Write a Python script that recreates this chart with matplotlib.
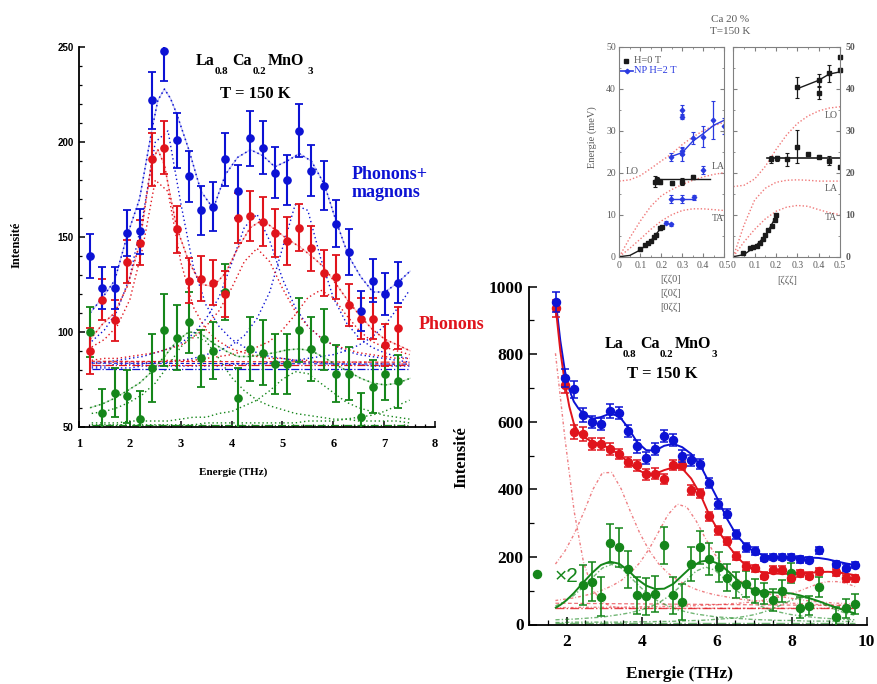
import matplotlib
matplotlib.use('Agg')
import matplotlib.pyplot as plt
from matplotlib.ticker import MultipleLocator

plt.rcParams['font.family'] = ['Liberation Serif', 'DejaVu Sans']
plt.rcParams['font.weight'] = 'bold'

BLUE = '#0c12d4'
RED = '#e0141c'
GREEN = '#15861a'
GREY = '#5a5a5a'

# ---------------- panneau 1 : 1 -> 8 THz ----------------
e1 = [1.22, 1.46, 1.70, 1.95, 2.19, 2.43, 2.68, 2.92, 3.16, 3.40, 3.64, 3.88, 4.12,
      4.37, 4.61, 4.85, 5.09, 5.33, 5.57, 5.82, 6.06, 6.30, 6.54, 6.78, 7.02, 7.27]
pm1 = [140, 123, 123, 152, 153, 222, 248, 201, 182, 164, 166, 191, 174,
       202, 197, 184, 180, 206, 185, 177, 157, 142, 111, 127, 120, 126]
pm1_err = [11.5, 11, 11, 12, 12, 15, 16, 14.5, 13.5, 13, 13, 14, 14,
           14.5, 14, 13.5, 13, 14, 13.5, 13, 12.5, 12, 10.5, 11.5, 11, 11]
ph1 = [90, 117, 106, 137, 147, 191, 197, 154, 127, 128, 126, 120, 160,
       161, 158, 152, 148, 155, 144, 131, 129, 114, 107, 107, 93, 102]
ph1_err = [12, 11, 11, 11.5, 12, 14, 14, 12.5, 12, 12, 12, 12, 13,
           13, 13, 12.5, 12.5, 12.5, 12, 12, 11.5, 11, 11, 11, 11, 11]
mg1 = [100, 57, 68, 66, 54, 81, 101, 97, 105, 86, 90, 121, 65,
       91, 89, 83, 83, 101, 91, 96, 78, 78, 55, 71, 78, 74]
mg1_err = [13, 13, 13, 14, 15, 18, 19, 17, 16, 15, 15, 15, 16,
           17, 17, 16, 16, 17, 17, 16, 15, 14, 13, 14, 14, 14]

# ajustements totaux
fit1_x = [1.22, 1.46, 1.70, 1.95, 2.19, 2.43, 2.55, 2.68, 2.80, 2.92, 3.16, 3.40, 3.64, 3.88, 4.12,
          4.37, 4.61, 4.85, 5.09, 5.33, 5.57, 5.82, 6.06, 6.30, 6.54, 6.78, 7.02, 7.27, 7.51]
pm1_fit = [110, 118, 127, 151, 170, 206, 222, 228, 223, 215, 196, 174, 165, 183, 192,
           196, 193, 187, 190, 194, 190, 178, 158, 140, 129, 121, 121, 126, 132]
ph1_fit = [96, 104, 110, 124, 146, 190, 196, 188, 171, 155, 137, 125, 124, 131, 144,
           155, 159, 154, 149, 145, 140, 134, 125, 116, 108, 101, 96, 93, 90]
mg1_fit = [60, 62, 65, 69, 73, 79, 83, 87, 91, 95, 100, 99, 94, 90, 87,
           87, 88, 89, 90.5, 91, 90, 86.5, 82.5, 79, 75.5, 73, 72, 73, 75.5]

# composantes
c1_x = [1.25, 1.5, 1.75, 2, 2.25, 2.5, 2.75, 3, 3.25, 3.5, 3.75, 4, 4.25, 4.5, 4.75,
        5, 5.25, 5.5, 5.75, 6, 6.25, 6.5, 6.75, 7, 7.25, 7.5]
b1 = [95, 101, 111, 129, 160, 200, 206, 168, 134, 114, 103, 96, 92, 89, 87, 86, 85, 84, 84, 83, 83, 83, 82, 82, 82, 82]
b2 = [84, 84, 85, 86, 87, 89, 91, 94, 99, 107, 118, 136, 155, 162, 148, 128, 113, 103, 97, 93, 90, 88, 87, 86, 85, 84]
b3 = [82, 82, 83, 83, 83, 84, 84, 85, 86, 88, 90, 93, 98, 107, 121, 144, 167, 164, 139, 118, 105, 97, 92, 89, 87, 86]
b4 = [81, 81, 81, 81, 82, 82, 82, 82, 82, 82, 82, 83, 83, 83, 84, 84, 85, 86, 87, 88, 90, 93, 97, 103, 112, 122]
r1 = [92, 96, 103, 117, 144, 180, 174, 137, 113, 101, 95, 91, 89, 87, 86, 86, 85, 85, 84, 84, 84, 84, 84, 83, 83, 83]
r2 = [85, 86, 86, 87, 88, 89, 91, 93, 97, 103, 111, 123, 137, 144, 137, 123, 111, 103, 97, 93, 91, 89, 88, 87, 86, 86]
r3 = [83, 84, 84, 84, 84, 84, 85, 85, 85, 86, 87, 88, 90, 92, 95, 101, 109, 118, 122, 118, 109, 101, 95, 92, 90, 88]
m1 = [57, 58, 60, 63, 67, 73, 82, 92, 98, 95, 86, 76, 69, 64, 61, 59, 57, 56, 55, 54, 54, 53, 53, 53, 53, 52]
m2 = [52, 52, 52, 53, 53, 53, 53, 54, 55, 55, 57, 58, 61, 64, 69, 75, 79, 78, 73, 68, 63, 60, 58, 56, 55, 54]
m3 = [51, 51, 51, 51, 51, 51, 51, 51, 51, 52, 52, 52, 52, 52, 52, 52, 52, 53, 53, 53, 54, 55, 56, 58, 61, 64]
bg1_x = [1.25, 7.5]
bg1_b = [80.5, 80.5]
bg1_b2 = [83.5, 83]
bg1_r = [82.5, 82.5]
bg1_r2 = [84.5, 84]
bg1_g = [51, 51]

# ---------------- panneau 3 : 1 -> 10 THz ----------------
e3 = [1.71, 1.95, 2.19, 2.43, 2.68, 2.91, 3.15, 3.40, 3.64, 3.87, 4.12, 4.36, 4.60, 4.84, 5.08, 5.32, 5.56,
      5.80, 6.04, 6.28, 6.52, 6.77, 7.01, 7.25, 7.50, 7.74, 7.98, 8.23, 8.47, 8.72, 9.19, 9.44, 9.68]
pm3 = [954, 730, 696, 620, 600, 594, 632, 626, 572, 527, 494, 520, 558, 547, 500, 486, 474,
       419, 358, 328, 267, 228, 218, 198, 200, 200, 200, 193, 191, 220, 179, 168, 176]
pm3_err = [30, 26, 25, 20, 18, 18, 20, 18, 18, 18, 18, 18, 18, 18, 18, 16, 15,
           15, 15, 14, 13, 12, 12, 11, 10, 10, 10, 10, 10, 10, 10, 10, 10]
ph3 = [936, 710, 570, 564, 535, 535, 519, 505, 481, 471, 445, 447, 432, 473, 471, 397, 388,
       320, 279, 248, 203, 173, 166, 145, 162, 162, 139, 151, 145, 158, 154, 137, 137]
ph3_err = [26, 25, 22, 20, 17, 17, 17, 16, 16, 16, 16, 16, 15, 15, 15, 15, 14,
           13, 13, 12, 12, 11, 11, 10, 10, 10, 10, 10, 10, 10, 10, 10, 10]
e3g = [2.43, 2.68, 2.91, 3.15, 3.40, 3.64, 3.87, 4.12, 4.36, 4.60, 4.84, 5.08, 5.32, 5.56, 5.80,
       6.05, 6.28, 6.52, 6.77, 7.01, 7.25, 7.50, 7.74, 7.98, 8.23, 8.47, 8.72, 9.19, 9.44, 9.68]
mg3 = [117, 127, 82, 240, 228, 164, 87, 84, 90, 234, 87, 67, 179, 228, 194,
       171, 139, 117, 120, 99, 92, 72, 99, 153, 50, 56, 110, 23, 48, 61]
mg3_err = [58, 58, 58, 58, 58, 55, 55, 55, 53, 55, 55, 53, 50, 50, 48,
           45, 40, 38, 38, 35, 32, 32, 32, 30, 30, 28, 30, 30, 28, 30]
seul_x = [1.22]
seul_y = [150]

fit3_x = [1.71, 1.83, 1.95, 2.07, 2.19, 2.31, 2.43, 2.68, 2.91, 3.15, 3.40, 3.64, 3.87, 4.12, 4.36, 4.60,
          4.84, 5.08, 5.32, 5.56, 5.80, 6.04, 6.28, 6.52, 6.77, 7.01, 7.25, 7.50, 7.74, 7.98, 8.23, 8.47,
          8.72, 8.96, 9.19, 9.44, 9.68]
pm3_fit = [955, 840, 752, 695, 660, 640, 626, 609, 614, 624, 617, 582, 541, 516, 515, 529,
           535, 525, 505, 472, 420, 368, 312, 266, 234, 214, 205, 201, 200, 199, 199, 198,
           197, 193, 187, 181, 176]
ph3_fit = [935, 810, 715, 645, 595, 570, 556, 541, 533, 521, 503, 481, 459, 446, 446, 457,
           465, 462, 432, 386, 325, 278, 238, 203, 175, 161, 154, 151, 150, 150, 151, 153,
           155, 156, 155, 151, 146]
mg3_fit = [50, 58, 68, 80, 93, 108, 123, 153, 176, 186, 180, 160, 135, 115, 105, 106,
           120, 145, 170, 186, 190, 180, 160, 135, 113, 102, 97, 95, 94, 92, 86, 78,
           69, 59, 50, 41, 33]

c3_x = [1.7, 1.95, 2.2, 2.45, 2.7, 2.95, 3.2, 3.45, 3.7, 3.95, 4.2, 4.45, 4.7, 4.95, 5.2, 5.45, 5.7,
        5.95, 6.2, 6.45, 6.7, 6.95, 7.2, 7.45, 7.7, 7.95, 8.2, 8.45, 8.7, 8.95, 9.2, 9.45, 9.7]
qe = [803, 554, 334, 183, 102, 66, 53, 49, 48, 48, 48, 48, 48, 48, 48, 48, 48,
      48, 48, 48, 48, 48, 48, 48, 48, 48, 48, 48, 48, 48, 48, 48, 48]
p1 = [179, 217, 268, 331, 400, 449, 450, 402, 334, 270, 219, 180, 152, 132, 116, 104, 95,
      88, 83, 78, 74, 71, 69, 66, 65, 63, 62, 60, 59, 58, 58, 57, 56]
p2 = [71, 75, 79, 85, 92, 102, 114, 130, 153, 183, 224, 274, 325, 356, 348, 307, 255,
      208, 171, 144, 124, 109, 98, 89, 83, 78, 74, 70, 67, 65, 63, 62, 60]
p3 = [50, 50, 50, 51, 51, 51, 51, 51, 52, 52, 53, 53, 54, 54, 55, 56, 57,
      58, 60, 62, 64, 67, 71, 76, 82, 90, 99, 110, 120, 127, 127, 122, 112]
n1 = [55, 68, 87, 112, 140, 167, 178, 167, 140, 112, 87, 68, 55, 44, 37, 31, 27,
      23, 21, 19, 17, 15, 14, 13, 12, 12, 11, 10, 10, 10, 9, 9, 9]
n2 = [14, 15, 16, 18, 20, 22, 26, 30, 35, 42, 51, 64, 82, 105, 132, 158, 170,
      161, 136, 109, 85, 67, 53, 43, 36, 30, 26, 23, 20, 18, 16, 15, 14]
n3 = [6, 6, 7, 7, 7, 7, 7, 7, 8, 8, 8, 9, 9, 10, 11, 12, 13,
      15, 17, 19, 23, 28, 35, 45, 57, 70, 79, 78, 68, 54, 43, 33, 27]
bg3_x = [1.7, 9.7]
bg3_r = [48, 48]
bg3_r2 = [63, 56]
bg3_g = [5, 5]

# ---------------- encart : dispersion ----------------
q = [0, 0.05, 0.1, 0.15, 0.2, 0.25, 0.3, 0.35, 0.4, 0.45, 0.5]
lo_a = [18, 18.3, 19.3, 21, 22.8, 24.5, 26.7, 28.5, 30, 31.2, 32]
la_a = [0, 4.5, 8.5, 12, 14.5, 16, 17.2, 18.2, 19, 19.6, 20]
ta_a = [0, 2, 4.2, 6.5, 8.5, 10, 11, 11.4, 11.4, 11.2, 11]
lo_b = [16.7, 17, 18.5, 21.5, 25.5, 29, 31.7, 33.5, 34.7, 35.4, 35.7]
la_b = [0, 7.5, 13.5, 16.3, 17.7, 18.2, 18.3, 18.2, 18, 18, 18]
ta_b = [0, 3.5, 6.5, 9, 10.8, 11.8, 12.2, 12, 11.2, 10.5, 10]

ac_a_x = [0.098, 0.122, 0.138, 0.151, 0.165, 0.175, 0.194, 0.203]
ac_a_y = [1.8, 2.8, 3.3, 3.8, 4.6, 5.1, 6.8, 7.0]
acl_a_x = [0, 0.05, 0.1, 0.15, 0.2]
acl_a_y = [0, 0.3, 1.6, 3.8, 6.9]
h0_a_x = [0.171, 0.181, 0.195, 0.25, 0.30, 0.352]
h0_a_y = [17.9, 18.3, 17.9, 17.6, 17.9, 19.0]
h0_a_err = [1.2, 0.6, 0.5, 0.5, 0.8, 0.4]
h0l_a_x = [0.17, 0.43]
h0l_a_y = [18.4, 18.4]
np_x = [0.222, 0.246, 0.246, 0.30, 0.30, 0.30, 0.30, 0.352, 0.40, 0.448, 0.498, 0.40, 0.246, 0.30, 0.357]
np_y = [8.1, 7.7, 23.8, 24.4, 25.2, 34.9, 33.3, 28.3, 28.6, 32.5, 31.1, 20.6, 13.7, 13.7, 14.1]
np_err = [0.3, 0.3, 1.0, 1.5, 1.0, 1.2, 0.6, 1.5, 2.5, 4.5, 2.0, 1.0, 1.0, 1.0, 0.7]
npl_x = [0.25, 0.30, 0.35, 0.40, 0.45, 0.50]
npl_y = [23.9, 24.8, 27.5, 29.3, 31.3, 32.5]
npl2_x = [0.25, 0.36]
npl2_y = [13.8, 13.8]

ac_b_x = [0.047, 0.078, 0.094, 0.11, 0.125, 0.1375, 0.15, 0.164, 0.18, 0.197, 0.2]
ac_b_y = [0.8, 2.0, 2.2, 2.6, 3.3, 4.1, 5.2, 6.3, 7.3, 8.7, 9.9]
acl_b_x = [0, 0.05, 0.1, 0.15, 0.2]
acl_b_y = [0, 0.5, 2.3, 5, 9.5]
mid_x = [0.175, 0.203, 0.25, 0.30, 0.35, 0.40, 0.45, 0.50]
mid_y = [23.2, 23.4, 23.2, 26.2, 24.4, 23.8, 22.9, 21.4]
mid_err = [0.8, 0.5, 1.5, 4.0, 0.3, 0.3, 1.0, 0.5]
midl_x = [0.16, 0.5]
midl_y = [23.5, 23.5]
up_x = [0.30, 0.40, 0.40, 0.45, 0.50, 0.50]
up_y = [40.3, 42.1, 39.0, 43.7, 47.6, 44.4]
up_err = [2.5, 1.5, 1.5, 2.0, 0.5, 0.5]
upl_x = [0.3, 0.4, 0.45, 0.5]
upl_y = [40, 42, 43.5, 44]

formule = ['La', '0.8', 'Ca', '0.2', 'MnO', '3']
indice = [False, True, False, True, False, True]

W, H = 877, 684


def boite(x0, y0, w, h):
    return [x0 / W, 1 - (y0 + h) / H, w / W, h / H]


def ftxt(x, y, s, **kw):
    return fig.text(x / W, 1 - y / H, s, **kw)


def ecrit_formule(xs, y0, taille):
    # chaque morceau place a la main, indices bien decales comme sur l'original
    for morceau, sub, x in zip(formule, indice, xs):
        if sub:
            ftxt(x, y0 + 9, morceau, fontsize=taille * 0.68, ha='left', va='baseline')
        else:
            ftxt(x, y0, morceau, fontsize=taille, ha='left', va='baseline')


fig = plt.figure(figsize=(W / 100, H / 100), dpi=100)

# ===== panneau 1 =====
ax1 = fig.add_axes(boite(79, 47.3, 356, 379.4))
ax1.set_xlim(1, 8)
ax1.set_ylim(50, 250)
for s in ['top', 'right']:
    ax1.spines[s].set_visible(False)
for s in ['left', 'bottom']:
    ax1.spines[s].set_linewidth(1.3)
ax1.set_xticks(range(1, 9))
ax1.xaxis.set_minor_locator(MultipleLocator(0.2))
ax1.set_yticks([50, 100, 150, 200, 250])
ax1.yaxis.set_minor_locator(MultipleLocator(10))
ax1.tick_params(which='major', direction='in', length=4, width=1.1)
ax1.tick_params(which='minor', direction='in', length=2.5, width=0.9)
ax1.tick_params(axis='x', pad=8)
ax1.tick_params(axis='y', pad=4)
for lab in ax1.get_xticklabels():
    lab.set_fontsize(9)
for lab in ax1.get_yticklabels():
    lab.set_fontsize(7)
    lab.set_fontfamily('Liberation Sans')

dot = (0, (1, 2))
for arr, col in [(b1, BLUE), (b2, BLUE), (b3, BLUE), (b4, BLUE),
                 (r1, RED), (r2, RED), (r3, RED),
                 (m1, GREEN), (m2, GREEN), (m3, GREEN)]:
    ax1.plot(c1_x, arr, linestyle=dot, color=col, lw=1.0)
ax1.plot(bg1_x, bg1_b, '-.', color=BLUE, lw=0.9)
ax1.plot(bg1_x, bg1_b2, '--', color=BLUE, lw=0.8, dashes=(3, 2))
ax1.plot(bg1_x, bg1_r, '-.', color=RED, lw=0.9)
ax1.plot(bg1_x, bg1_r2, '--', color=RED, lw=0.8, dashes=(3, 2))
ax1.plot(bg1_x, bg1_g, '-.', color=GREEN, lw=0.9)

for arr, col in [(pm1_fit, BLUE), (ph1_fit, RED), (mg1_fit, GREEN)]:
    ax1.plot(fit1_x, arr, '-', color=col, lw=1.0, alpha=0.22)
    ax1.plot(fit1_x, arr, linestyle=dot, color=col, lw=1.1)

for y, err, col in [(mg1, mg1_err, GREEN), (ph1, ph1_err, RED), (pm1, pm1_err, BLUE)]:
    ax1.errorbar(e1, y, yerr=err, fmt='o', color=col, ms=5.2, elinewidth=1.5,
                 capsize=2.8, capthick=1.3, zorder=5)

ecrit_formule([196, 215, 232, 253, 268, 307], 65, 11.5)
ftxt(255, 98, 'T = 150 K', fontsize=12, ha='center', va='baseline')
ftxt(352, 179, 'Phonons+', fontsize=13, color=BLUE, ha='left', va='baseline')
ftxt(352, 197, 'magnons', fontsize=13, color=BLUE, ha='left', va='baseline')
ftxt(419, 329, 'Phonons', fontsize=13, color=RED, ha='left', va='baseline')
ftxt(233, 472, 'Energie (THz)', fontsize=8, ha='center', va='center')
ftxt(17, 245, 'Intensité', fontsize=9, ha='center', va='center', rotation=90)

# ===== panneau 3 =====
ax3 = fig.add_axes(boite(529.2, 286.7, 337.5, 337.8))
ax3.set_xlim(1, 10)
ax3.set_ylim(0, 1000)
for s in ['top', 'right']:
    ax3.spines[s].set_visible(False)
for s in ['left', 'bottom']:
    ax3.spines[s].set_linewidth(1.3)
ax3.set_xticks([2, 4, 6, 8, 10])
ax3.xaxis.set_minor_locator(MultipleLocator(0.5))
ax3.set_yticks([0, 200, 400, 600, 800, 1000])
ax3.yaxis.set_minor_locator(MultipleLocator(100))
ax3.tick_params(which='major', direction='in', length=6, width=1.1, labelsize=12.5)
ax3.tick_params(which='minor', direction='in', length=3.5, width=0.9)
ax3.tick_params(axis='x', pad=7)
ax3.tick_params(axis='y', pad=4)

for arr in [qe, p1, p2, p3]:
    ax3.plot(c3_x, arr, linestyle=(0, (2, 1.5, 0.5, 1.5)), color=RED, lw=1.0, alpha=0.55)
ax3.plot(bg3_x, bg3_r, '-.', color=RED, lw=1.0, alpha=0.8)
ax3.plot(bg3_x, bg3_r2, '--', color=RED, lw=0.9, alpha=0.6, dashes=(3, 2))
for arr in [n1, n2, n3]:
    ax3.plot(c3_x, arr, linestyle=(0, (3, 1.5, 1, 1.5)), color=GREEN, lw=1.0, alpha=0.6)
ax3.plot(bg3_x, bg3_g, '-.', color=GREEN, lw=1.0, alpha=0.6)

ax3.plot(fit3_x, pm3_fit, '-', color=BLUE, lw=1.4)
ax3.plot(fit3_x, ph3_fit, '-', color=RED, lw=1.4)
ax3.plot(fit3_x, mg3_fit, '-', color=GREEN, lw=1.4)

ax3.errorbar(e3g, mg3, yerr=mg3_err, fmt='o', color=GREEN, ms=5.8, elinewidth=1.2,
             capsize=3, capthick=1.1, zorder=5)
ax3.errorbar(e3, ph3, yerr=ph3_err, fmt='o', color=RED, ms=5.8, elinewidth=1.2,
             capsize=3, capthick=1.1, zorder=5)
ax3.errorbar(e3, pm3, yerr=pm3_err, fmt='o', color=BLUE, ms=5.8, elinewidth=1.2,
             capsize=3, capthick=1.1, zorder=6)
ax3.plot(seul_x, seul_y, 'o', color=GREEN, ms=5.8, clip_on=False)

ftxt(555, 577, '×2', fontsize=15, color=GREEN, ha='left', va='center',
     fontfamily='Liberation Sans', fontweight='normal')
ecrit_formule([605, 623, 640, 660, 675, 712], 348, 11.5)
ftxt(662, 378, 'T = 150 K', fontsize=12, ha='center', va='baseline')
ftxt(680, 674, 'Energie (THz)', fontsize=12.5, ha='center', va='center')
ftxt(461, 457, 'Intensité', fontsize=12, ha='center', va='center', rotation=90)

# ===== encart dispersion =====
PINK = '#f07878'
BLK = '#1a1a1a'
NPB = '#2a3ae0'
axa = fig.add_axes(boite(619.3, 46.7, 105, 210))
axb = fig.add_axes(boite(733.3, 46.7, 106.7, 210))
for ax in (axa, axb):
    ax.set_xlim(0, 0.5)
    ax.set_ylim(0, 50)
    for s in ax.spines.values():
        s.set_color('#808080')
        s.set_linewidth(0.8)
    ax.set_xticks(q[::2])
    ax.set_xticklabels(['0', '0.1', '0.2', '0.3', '0.4', '0.5'])
    ax.xaxis.set_minor_locator(MultipleLocator(0.05))
    ax.set_yticks([0, 10, 20, 30, 40, 50])
    ax.yaxis.set_minor_locator(MultipleLocator(5))
    ax.tick_params(which='both', direction='in', top=True, right=True, colors='#808080',
                   labelcolor=GREY, labelsize=7)
    ax.tick_params(which='major', length=3)
    ax.tick_params(which='minor', length=1.5)
    ax.tick_params(axis='x', pad=3)
    ax.tick_params(axis='y', pad=2.5)
    for lab in ax.get_xticklabels() + ax.get_yticklabels():
        lab.set_fontweight('normal')
axb.tick_params(labelleft=False, labelright=True)
axb.tick_params(axis='y', pad=4)

axa.plot(q, lo_a, linestyle=(0, (1, 1.5)), color=PINK, lw=1.0)
axa.plot(q, la_a, linestyle=(0, (1, 1.5)), color=PINK, lw=1.0)
axa.plot(q, ta_a, linestyle=(0, (1, 1.5)), color=PINK, lw=1.0)
axa.plot(acl_a_x, acl_a_y, '-', color=BLK, lw=1.0)
axa.plot(ac_a_x, ac_a_y, 's', color=BLK, ms=2.2)
axa.plot(h0l_a_x, h0l_a_y, '-', color=BLK, lw=1.0)
axa.errorbar(h0_a_x, h0_a_y, yerr=h0_a_err, fmt='s', color=BLK, ms=2.2, elinewidth=0.9,
             capsize=1.5, capthick=0.8)
axa.plot(npl_x, npl_y, '-', color=NPB, lw=1.0)
axa.plot(npl2_x, npl2_y, '-', color=NPB, lw=1.0)
axa.errorbar(np_x, np_y, yerr=np_err, fmt='D', color=NPB, ms=2.3, elinewidth=0.9,
             capsize=1.5, capthick=0.8)
axa.plot([0.03], [46.6], 's', color=BLK, ms=2.2)
axa.text(0.07, 46.6, 'H=0 T', fontsize=7.5, color=GREY, fontweight='normal', va='center')
axa.plot([0.005, 0.065], [44.3, 44.3], '-', color=NPB, lw=1.2)
axa.plot([0.035], [44.3], 'D', color=NPB, ms=2.3)
axa.text(0.07, 44.3, 'NP H=2 T', fontsize=7.5, color=NPB, fontweight='normal', va='center')
axa.text(0.03, 20.3, 'LO', fontsize=7, color=GREY, fontweight='normal', va='center')
axa.text(0.44, 21.5, 'LA', fontsize=7, color=GREY, fontweight='normal', va='center')
axa.text(0.44, 9.2, 'TA', fontsize=7, color=GREY, fontweight='normal', va='center')

axb.plot(q, lo_b, linestyle=(0, (1, 1.5)), color=PINK, lw=1.0)
axb.plot(q, la_b, linestyle=(0, (1, 1.5)), color=PINK, lw=1.0)
axb.plot(q, ta_b, linestyle=(0, (1, 1.5)), color=PINK, lw=1.0)
axb.plot(acl_b_x, acl_b_y, '-', color=BLK, lw=1.0)
axb.plot(ac_b_x, ac_b_y, 's', color=BLK, ms=2.2)
axb.plot(midl_x, midl_y, '-', color=BLK, lw=1.2)
axb.errorbar(mid_x, mid_y, yerr=mid_err, fmt='s', color=BLK, ms=2.2, elinewidth=0.9,
             capsize=1.5, capthick=0.8)
axb.plot(upl_x, upl_y, '-', color=BLK, lw=1.0)
axb.errorbar(up_x, up_y, yerr=up_err, fmt='s', color=BLK, ms=2.2, elinewidth=0.9,
             capsize=1.5, capthick=0.8, clip_on=False)
axb.text(0.43, 33.7, 'LO', fontsize=7, color=GREY, fontweight='normal', va='center')
axb.text(0.43, 16.3, 'LA', fontsize=7, color=GREY, fontweight='normal', va='center')
axb.text(0.43, 9.3, 'TA', fontsize=7, color=GREY, fontweight='normal', va='center')

ftxt(730, 19, 'Ca 20 %', fontsize=8, color=GREY, fontweight='normal', ha='center', va='center')
ftxt(730, 32, 'T=150 K', fontsize=8, color=GREY, fontweight='normal', ha='center', va='center')
ftxt(592, 137, 'Energie (meV)', fontsize=7.5, color=GREY, fontweight='normal',
     ha='center', va='center', rotation=90)
ftxt(671, 279, '[ζζ0]', fontsize=7.5, color=GREY, fontweight='normal', ha='center', va='center')
ftxt(671, 293, '[ζ0ζ]', fontsize=7.5, color=GREY, fontweight='normal', ha='center', va='center')
ftxt(671, 307, '[0ζζ]', fontsize=7.5, color=GREY, fontweight='normal', ha='center', va='center')
ftxt(787, 280, '[ζζζ]', fontsize=7.5, color=GREY, fontweight='normal', ha='center', va='center')

fig.savefig('out.png', dpi=100)
